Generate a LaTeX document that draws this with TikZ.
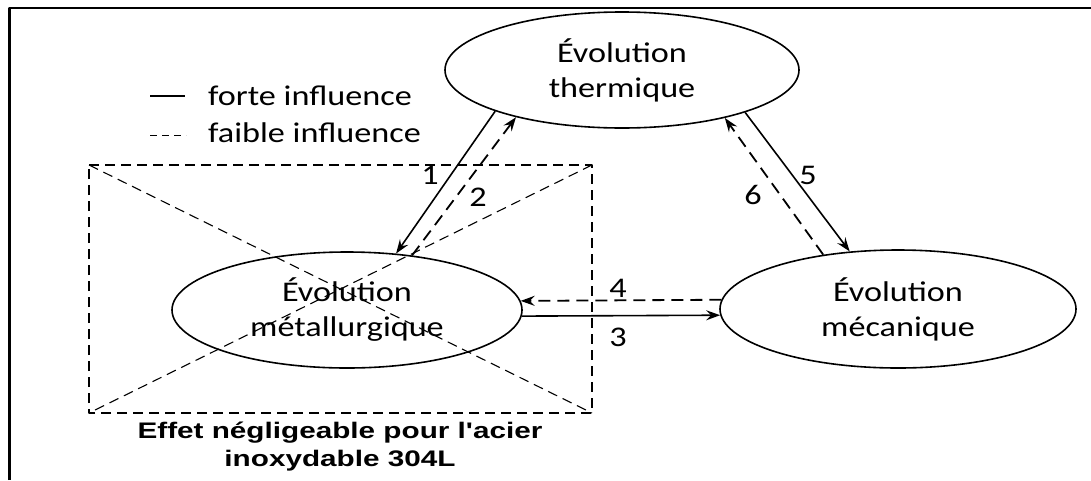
\documentclass[tikz,border=0pt]{standalone}
\usepackage{fontspec}
\usepackage{graphicx}
\setmainfont[FakeStretch=1.2]{Carlito}
\newfontfamily\grasfont{Liberation Sans}
\newcommand\etire[1]{\scalebox{1.32}[1]{#1}}
\usetikzlibrary{arrows.meta,shapes.geometric}
\begin{document}
\begin{tikzpicture}[line cap=butt,line join=round,x=1pt,y=1pt,
	>={Stealth[length=14pt,width=10pt,inset=5pt]},
	etat/.style={ellipse,draw,line width=1.6pt,inner sep=0pt,align=center,font=\fontsize{28.5}{35}\selectfont},
	fort/.style={->,line width=1.6pt},
	faible/.style={->,line width=1.8pt,dash pattern=on 12pt off 7pt},
	croix/.style={line width=1.1pt,dash pattern=on 10pt off 6pt},
	chiffre/.style={font=\fontsize{28.5}{35}\selectfont,inner sep=0pt}]
	\useasboundingbox (0,0) rectangle (1091,-480);
	% cadre
	\draw [line width=2.7pt] (9.3,-480)-- (9.3,-8)-- (1091,-8);
	% les trois evolutions
	\node[etat,minimum width=354pt,minimum height=116pt] (therm) at (622,-70) {Évolution\\thermique};
	\node[etat,minimum width=350pt,minimum height=116pt] (metal) at (347,-310) {Évolution\\métallurgique};
	\node[etat,minimum width=356pt,minimum height=118pt] (meca) at (898,-309) {Évolution\\mécanique};
	% zone barree
	\coordinate (r1) at (89,-165);
	\coordinate (r2) at (592,-165);
	\coordinate (r3) at (592,-413);
	\coordinate (r4) at (89,-413);
	\draw [croix] (r1)-- (r2)-- (r3)-- (r4)-- cycle;
	\draw [croix] (r1)-- (r3);
	\draw [croix] (r2)-- (r4);
	% influences
	\draw [fort] (therm.198.7)-- (metal.49.8);
	\draw [faible] (metal.40.2)-- (therm.204.1);
	\draw [fort] (metal.-2.6)-- (meca.182.9);
	\draw [faible] (meca.177.1)-- (metal.3.3);
	\draw [fort] (therm.341.6)-- (meca.130.8);
	\draw [faible] (meca.144.8)-- (therm.335);
	\node[chiffre] (n1) at (430,-175) {1};
	\node[chiffre] (n2) at (478,-197) {2};
	\node[chiffre] (n3) at (618,-337) {3};
	\node[chiffre] (n4) at (618,-288) {4};
	\node[chiffre] (n5) at (808,-175) {5};
	\node[chiffre] (n6) at (753,-195) {6};
	% legende
	\node[chiffre,anchor=base west] (lfort) at (208,-105) {forte influence};
	\node[chiffre,anchor=base west] (lfaible) at (208,-142) {faible influence};
	\draw [line width=1.6pt] ([xshift=-58pt,yshift=-1pt]lfort.west)-- ++(35,0);
	\draw [line width=1.4pt,dash pattern=on 7pt off 5pt] ([xshift=-58pt,yshift=-3pt]lfaible.west)-- ++(36,0);
	% remarque
	\node[inner sep=0pt,font=\grasfont\bfseries\fontsize{22.5}{28}\selectfont] (note) at (340,-447)
		{\etire{\begin{tabular}{@{}c@{}}Effet négligeable pour l'acier\\inoxydable 304L\end{tabular}}};
\end{tikzpicture}
\end{document}
